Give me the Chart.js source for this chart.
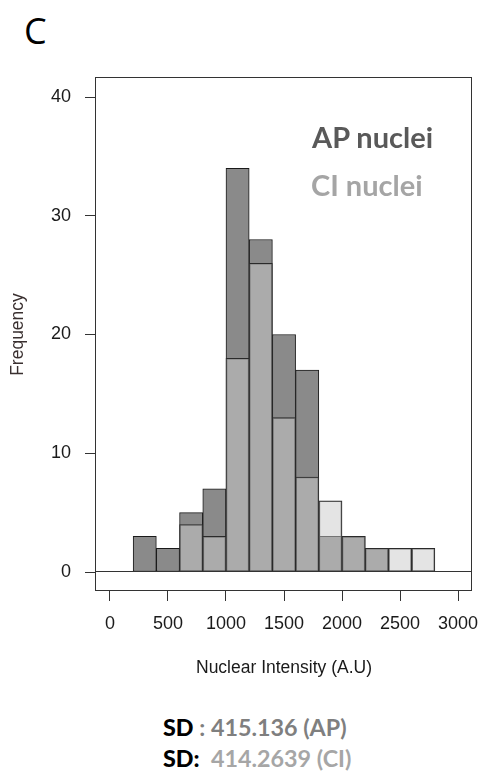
<!DOCTYPE html>
<html>
<head>
<meta charset="utf-8">
<title>Nuclear intensity histogram</title>
<script src="https://cdn.jsdelivr.net/npm/chart.js@4.4.1/dist/chart.umd.min.js"></script>
<style>
    body { margin: 0; background: #fff; }
    #wrap { position: relative; width: 492px; height: 778px; overflow: hidden; }
    #chart { position: absolute; left: 0; top: 0; }
    .lbl { position: absolute; white-space: nowrap; line-height: 1; }
    #panel { left: 24px; top: 6px; font: 36px "Open Sans", sans-serif; color: #000; }
    .leg { font-family: Lato, sans-serif; font-weight: bold; font-size: 29px; }
    #leg-ap { left: 312px; top: 122px; color: #595959; }
    #leg-ci { left: 311px; top: 170px; color: #a5a5a5; }
    .sd { left: 163px; font-family: Lato, sans-serif; font-weight: bold; font-size: 23.3px; }
    .sd b { color: #000; }
    #sd-ap { top: 716px; color: #7f7f7f; }
    #sd-ci { top: 747px; color: #a6a6a6; }
</style>
</head>
<body>
<div id="wrap">
    <div class="lbl" id="panel">C</div>
    <canvas id="chart" width="492" height="680"></canvas>
    <div class="lbl leg" id="leg-ap">AP nuclei</div>
    <div class="lbl leg" id="leg-ci">CI nuclei</div>
    <div class="lbl sd" id="sd-ap"><b>SD</b> : 415.136 (AP)</div>
    <div class="lbl sd" id="sd-ci"><b>SD:</b>&nbsp; 414.2639 (CI)</div>
</div>
<script>
// histogram bins (edges) and counts per bin
const binEdges = [200, 400, 600, 800, 1000, 1200, 1400, 1600, 1800, 2000, 2200, 2400, 2600, 2800];
const apCounts = [3, 2, 5, 7, 34, 28, 20, 17, 3, 3, 2, 0, 0];
const ciCounts = [0, 0, 4, 3, 18, 26, 13, 8, 6, 3, 2, 2, 2];
const xTicks = [0, 500, 1000, 1500, 2000, 2500, 3000];
const yTicks = [0, 10, 20, 30, 40];

const tickFont = { family: '"Liberation Sans", Arial, sans-serif', size: 18 };
const titleFont = { family: '"Liberation Sans", Arial, sans-serif', size: 17.5 };

function toPoints(counts) {
    return counts.map((v, i) => ({ x: (binEdges[i] + binEdges[i + 1]) / 2, y: v }));
}

// box round the plot area plus the line at zero
const boxPlugin = {
    id: 'box',
    afterDatasetsDraw(chart) {
        const { ctx, chartArea: a, scales } = chart;
        const y0 = Math.round(scales.y.getPixelForValue(0)) - 0.5;
        ctx.save();
        ctx.strokeStyle = '#333';
        ctx.lineWidth = 1;
        ctx.strokeRect(a.left - 0.5, a.top - 0.5, a.width, a.height);
        ctx.beginPath();
        ctx.moveTo(a.left, y0);
        ctx.lineTo(a.right, y0);
        ctx.stroke();
        ctx.restore();
    }
};

new Chart(document.getElementById('chart'), {
    type: 'bar',
    data: {
        datasets: [
            {
                label: 'AP nuclei',
                data: toPoints(apCounts),
                backgroundColor: '#8a8a8a',
                borderColor: '#1a1a1a',
                borderWidth: 1,
                borderSkipped: false,
                grouped: false,
                categoryPercentage: 1,
                barPercentage: 1,
                order: 2
            },
            {
                label: 'CI nuclei',
                data: toPoints(ciCounts),
                backgroundColor: 'rgba(202, 202, 202, 0.513)',
                borderColor: '#2a2a2a',
                borderWidth: 1,
                borderSkipped: false,
                grouped: false,
                categoryPercentage: 1,
                barPercentage: 1,
                order: 1
            }
        ]
    },
    options: {
        responsive: false,
        animation: false,
        layout: { padding: { top: 78, right: 20, left: 0, bottom: 0 } },
        plugins: {
            legend: { display: false },
            tooltip: { enabled: false }
        },
        scales: {
            x: {
                type: 'linear',
                min: -120,
                max: 3120,
                offset: false,
                afterFit: s => { s.height = 89; },
                afterBuildTicks: s => { s.ticks = xTicks.map(v => ({ value: v })); },
                grid: { offset: false, drawOnChartArea: false, tickLength: 10, color: '#333' },
                border: { display: false },
                ticks: {
                    padding: 12,
                    maxRotation: 0,
                    autoSkip: false,
                    color: '#1a1a1a',
                    font: tickFont,
                    callback: v => String(v)
                },
                title: {
                    display: true,
                    text: 'Nuclear Intensity (A.U)',
                    color: '#1a1a1a',
                    font: titleFont,
                    padding: { top: 0, bottom: 1.5 }
                }
            },
            y: {
                min: -1.6,
                max: 41.6,
                afterFit: s => { s.width = 96; },
                afterBuildTicks: s => { s.ticks = yTicks.map(v => ({ value: v })); },
                grid: { drawOnChartArea: false, tickLength: 11, color: '#333' },
                border: { display: false },
                ticks: { padding: 14, color: '#1a1a1a', font: tickFont, callback: v => String(v) },
                title: {
                    display: true,
                    text: 'Frequency',
                    color: '#3a3030',
                    font: titleFont,
                    padding: { top: 8, bottom: 0 }
                }
            }
        }
    },
    plugins: [boxPlugin]
});
</script>
</body>
</html>
